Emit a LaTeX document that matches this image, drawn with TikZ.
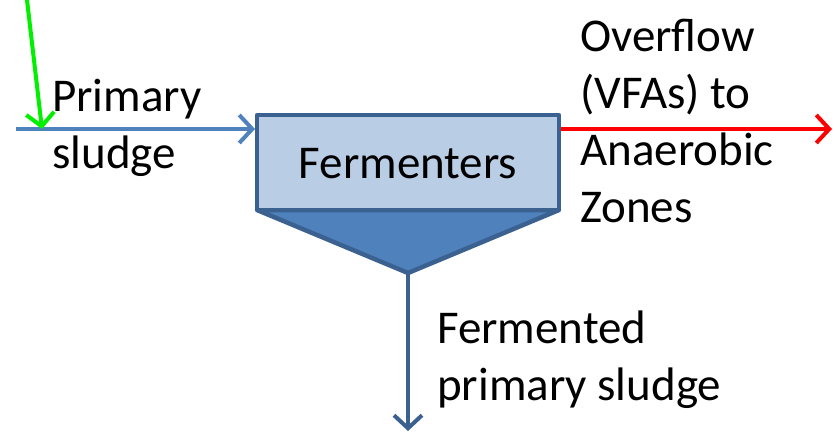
\documentclass[tikz,border=0pt]{standalone}
\usepackage{fontspec}
\setmainfont{Carlito}
\usetikzlibrary{arrows.meta}
\definecolor{flowblue}{HTML}{4F81BD}
\definecolor{edgeblue}{HTML}{3A6190}
\definecolor{boxfill}{HTML}{B9CDE5}
\definecolor{overred}{HTML}{FF0000}
\definecolor{addgreen}{HTML}{00F000}
\tikzset{
  x=1pt, y=-1pt,
  lbl/.style={font=\fontsize{47}{57}\selectfont, align=left, inner sep=0pt, anchor=base west},
  flow/.style={line width=4pt, -{Straight Barb[length=13pt,width=28pt,line width=4pt]}},
}
\begin{document}
\begin{tikzpicture}
\useasboundingbox (0,0) rectangle (835,433);
% tank
\coordinate (tl) at (257,115);
\coordinate (tr) at (559,115);
\coordinate (bl) at (257,210);
\coordinate (br) at (559,210);
\coordinate (tip) at (408,273);
\draw[edgeblue, line width=4.5pt, fill=flowblue, line join=round] (bl) -- (br) -- (tip) -- cycle;
\draw[edgeblue, line width=4.5pt, fill=boxfill, line join=round] (tl) rectangle (br);
\node[font=\fontsize{47}{57}\selectfont, inner sep=0pt, anchor=base] (ferm) at (408,178) {Fermenters};
% flows
\coordinate (inStart) at (16,129);
\coordinate (inEnd) at (255,129);
\draw[flow, flowblue] (inStart) -- (inEnd);
\coordinate (gStart) at (27,0);
\coordinate (gEnd) at (42,129);
\draw[flow, addgreen] (gStart) -- (gEnd);
\coordinate (outStart) at (561,129);
\coordinate (outEnd) at (832,129);
\draw[flow, overred] (outStart) -- (outEnd);
\coordinate (downEnd) at (408,431);
\draw[flow, edgeblue] (tip) -- (downEnd);
% labels
\node[lbl] (prim) at (52,168) {Primary\\sludge};
\node[lbl] (over) at (580,222) {Overflow\\(VFAs) to\\Anaerobic\\Zones};
\node[lbl] (fermp) at (437,400) {Fermented\\primary sludge};
\end{tikzpicture}
\end{document}
